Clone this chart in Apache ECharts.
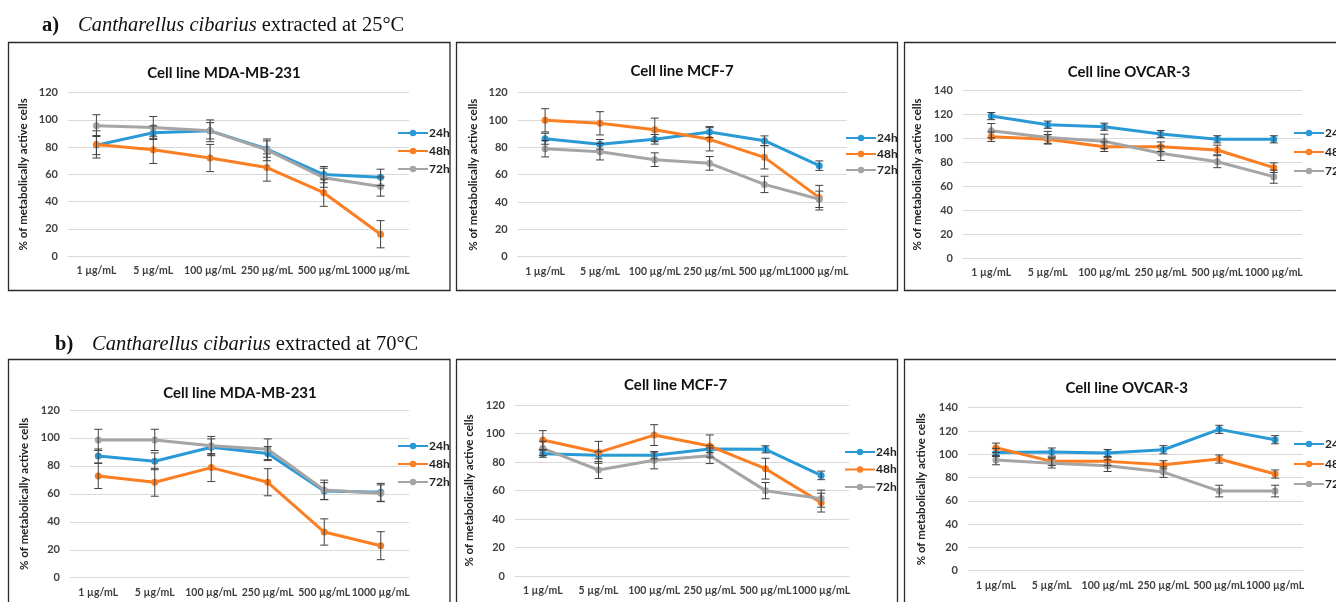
<!DOCTYPE html>
<html>
<head>
<meta charset="utf-8">
<script src="https://cdn.jsdelivr.net/npm/echarts@6/dist/echarts.min.js"></script>
<style>
html,body{margin:0;padding:0;background:#fff;}
#chart{width:1336px;height:602px;}
</style>
</head>
<body>
<div id="chart"></div>
<script>
// ---------- DATA ----------
const categories = ['1 µg/mL', '5 µg/mL', '100 µg/mL', '250 µg/mL', '500 µg/mL', '1000 µg/mL'];
const seriesNames = ['24h', '48h', '72h'];
const yTicks120 = [0, 20, 40, 60, 80, 100, 120];
const yTicks140 = [0, 20, 40, 60, 80, 100, 120, 140];

// a) 25°C — MDA-MB-231
const a1_24h = [81.5, 90.6, 92, 78.6, 59.8, 57.8];
const a1_24h_err = [7, 5, 6, 6, 6, 6];
const a1_48h = [82, 78, 72, 65, 46.5, 16];
const a1_48h_err = [10, 10, 10, 10, 10, 10];
const a1_72h = [95.8, 94.5, 92, 78, 57.5, 51];
const a1_72h_err = [8, 8, 8, 8, 7, 7];
// a) 25°C — MCF-7
const a2_24h = [86.3, 82.2, 85.9, 91.2, 84.9, 66.6];
const a2_24h_err = [4, 3.5, 3.5, 4, 3.5, 3.5];
const a2_48h = [99.8, 97.6, 92.9, 85.9, 72.7, 43.2];
const a2_48h_err = [8.5, 8.5, 8.5, 8.5, 8.5, 9];
const a2_72h = [79, 76.8, 71, 68.3, 52.9, 42];
const a2_72h_err = [6, 6, 5, 5, 6, 6];
// a) 25°C — OVCAR-3
const a3_24h = [118.8, 111.6, 109.9, 103.8, 99.4, 99.4];
const a3_24h_err = [3, 3, 3, 3, 3, 3];
const a3_48h = [101.6, 99.4, 93.2, 93.2, 90.5, 75.7];
const a3_48h_err = [4, 4, 4, 4, 4, 4];
const a3_72h = [106.6, 101, 97.7, 87.7, 80.7, 68.2];
const a3_72h_err = [6, 5, 6, 6, 5, 5.5];
// b) 70°C — MDA-MB-231
const b1_24h = [87.1, 83.3, 93.3, 88.8, 62, 61.1];
const b1_24h_err = [5, 6, 6, 5, 6, 6.4];
const b1_48h = [72.8, 68.3, 78.8, 68.3, 32.7, 22.9];
const b1_48h_err = [9, 10, 10, 9.7, 9.4, 10];
const b1_72h = [98.6, 98.6, 94.5, 91.9, 62.8, 60.4];
const b1_72h_err = [7.6, 7.6, 6.6, 7.4, 7, 6];
// b) 70°C — MCF-7
const b2_24h = [85.8, 84.7, 84.7, 89.1, 88.9, 70.6];
const b2_24h_err = [2.5, 2.5, 2.5, 2.5, 2.5, 3];
const b2_48h = [95.4, 86.8, 98.9, 91.2, 75.3, 51.5];
const b2_48h_err = [6.6, 7.7, 7.3, 7.8, 7.3, 6.6];
const b2_72h = [89.6, 74.4, 81.2, 84.4, 59.9, 54.3];
const b2_72h_err = [5, 6, 6, 5.5, 5.7, 6];
// b) 70°C — OVCAR-3
const b3_24h = [101.6, 101.9, 101.1, 103.9, 121.4, 112.5];
const b3_24h_err = [3.5, 3.5, 3, 3.5, 3.5, 3.5];
const b3_48h = [105.6, 93.9, 93.9, 91, 95.9, 83];
const b3_48h_err = [4, 3.5, 3.5, 3.5, 3.5, 3.5];
const b3_72h = [95, 92.2, 90.2, 84.7, 68.4, 68.4];
const b3_72h_err = [4, 4, 5, 4.5, 5, 5];

// ---------- LAYOUT / STYLE ----------
const colors = ['#2a9ad6', '#fb7e22', '#a5a5a5'];
const FONT = 'Lato';
const panels = [
  {title:'Cell line MDA-MB-231', ticks:yTicks120, vals:[a1_24h,a1_48h,a1_72h], errs:[a1_24h_err,a1_48h_err,a1_72h_err],
   grid:{left:68, top:92.7, width:341, height:163.3}, titleX:224, titleY:72, leg:{x:397, y:133, gap:18}, nameX:23, box:[8.5,42.5,441.5,248]},
  {title:'Cell line MCF-7', ticks:yTicks120, vals:[a2_24h,a2_48h,a2_72h], errs:[a2_24h_err,a2_48h_err,a2_72h_err],
   grid:{left:517.7, top:92.7, width:329, height:164}, titleX:682, titleY:70, leg:{x:845, y:138, gap:16}, nameX:473, box:[456.5,42.5,441,248]},
  {title:'Cell line OVCAR-3', ticks:yTicks140, vals:[a3_24h,a3_48h,a3_72h], errs:[a3_24h_err,a3_48h_err,a3_72h_err],
   grid:{left:963, top:90.7, width:339, height:167.6}, titleX:1129, titleY:70.7, leg:{x:1293, y:133, gap:19}, nameX:917, box:[904.5,42.5,460,248]},
  {title:'Cell line MDA-MB-231', ticks:yTicks120, vals:[b1_24h,b1_48h,b1_72h], errs:[b1_24h_err,b1_48h_err,b1_72h_err],
   grid:{left:70, top:410, width:339, height:167.7}, titleX:240, titleY:391.7, leg:{x:397, y:446, gap:18}, nameX:24, box:[8.5,359.5,441.5,260]},
  {title:'Cell line MCF-7', ticks:yTicks120, vals:[b2_24h,b2_48h,b2_72h], errs:[b2_24h_err,b2_48h_err,b2_72h_err],
   grid:{left:515, top:405, width:334, height:171}, titleX:675.7, titleY:384, leg:{x:844, y:452, gap:17.5}, nameX:469, box:[456.5,359.5,441,260]},
  {title:'Cell line OVCAR-3', ticks:yTicks140, vals:[b3_24h,b3_48h,b3_72h], errs:[b3_24h_err,b3_48h_err,b3_72h_err],
   grid:{left:968, top:407.7, width:335, height:163}, titleX:1126.7, titleY:386.7, leg:{x:1293, y:444, gap:20}, nameX:921, box:[904.5,359.5,460,260]}
];

const option = {
  backgroundColor:'#fff',
  animation:false,
  textStyle:{fontFamily:FONT},
  title:[], grid:[], xAxis:[], yAxis:[], legend:[], series:[],
  graphic:[]
};

// headers
const headStyle = {fontFamily:'Liberation Serif', fontSize:20.5, fontWeight:'normal', color:'#111',
  rich:{i:{fontFamily:'Liberation Serif', fontStyle:'italic', fontSize:20.5, color:'#111'}}};
option.title.push(
  {left:42, top:15, padding:0, text:'a)', textStyle:{fontFamily:'Liberation Serif', fontSize:20.5, fontWeight:'bold', color:'#111'}},
  {left:78, top:15, padding:0, text:'{i|Cantharellus cibarius} extracted at 25°C', textStyle:headStyle},
  {left:55, top:334, padding:0, text:'b)', textStyle:{fontFamily:'Liberation Serif', fontSize:20.5, fontWeight:'bold', color:'#111'}},
  {left:92, top:334, padding:0, text:'{i|Cantharellus cibarius} extracted at 70°C', textStyle:headStyle}
);

panels.forEach((p, i) => {
  const ymax = p.ticks[p.ticks.length - 1];
  option.graphic.push({type:'rect', shape:{x:p.box[0], y:p.box[1], width:p.box[2], height:p.box[3]},
    style:{fill:'none', stroke:'#2a2a2a', lineWidth:1.3}, z:0});
  option.title.push({text:p.title, left:p.titleX, top:p.titleY - 6, padding:0, textAlign:'center',
    textStyle:{fontFamily:FONT, fontSize:15, fontWeight:'bold', color:'#111'}});
  option.grid.push({left:p.grid.left, top:p.grid.top, width:p.grid.width, height:p.grid.height, containLabel:false});
  option.xAxis.push({type:'category', gridIndex:i, data:categories, boundaryGap:true,
    axisLine:{show:true, lineStyle:{color:'#d9d9d9', width:1}}, axisTick:{show:false},
    axisLabel:{interval:0, margin:9, fontFamily:FONT, fontSize:10.5, fontWeight:'bold', color:'#404040'},
    splitLine:{show:false}});
  option.yAxis.push({type:'value', gridIndex:i, min:0, max:ymax, interval:20,
    name:'% of metabolically active cells', nameLocation:'middle', nameGap:p.grid.left - p.nameX - 6,
    nameTextStyle:{fontFamily:FONT, fontSize:11.5, fontWeight:'bold', color:'#222'},
    axisLine:{show:false}, axisTick:{show:false},
    axisLabel:{margin:10, fontFamily:FONT, fontSize:11, fontWeight:'bold', color:'#404040'},
    splitLine:{show:true, lineStyle:{color:'#d9d9d9', width:1}}});
  option.legend.push({orient:'vertical', left:p.leg.x, top:p.leg.y - 6, itemWidth:30, itemHeight:8,
    itemGap:Math.max(0, p.leg.gap - 12), data:seriesNames, selectedMode:false, padding:0,
    textStyle:{fontFamily:FONT, fontSize:12, fontWeight:'bold', color:'#222', padding:[0,0,0,-4]}});
  seriesNames.forEach((nm, k) => {
    option.series.push({type:'line', name:nm, xAxisIndex:i, yAxisIndex:i, data:p.vals[k],
      color:colors[k], symbol:'circle', symbolSize:7, showSymbol:true,
      lineStyle:{width:3, color:colors[k]}, itemStyle:{color:colors[k]}, z:2});
  });
  seriesNames.forEach((nm, k) => {
    option.series.push({type:'custom', name:'err_' + nm, xAxisIndex:i, yAxisIndex:i,
      data:p.vals[k].map((v, j) => [j, v, p.errs[k][j]]),
      encode:{x:0, y:1}, z:3, silent:true,
      renderItem:(params, api) => {
        const x = api.value(0), v = api.value(1), e = api.value(2);
        const top = api.coord([x, v + e]);
        const bot = api.coord([x, v - e]);
        const hw = 4;
        const st = {stroke:'#404040', lineWidth:1};
        return {type:'group', children:[
          {type:'line', shape:{x1:top[0], y1:top[1], x2:bot[0], y2:bot[1]}, style:st},
          {type:'line', shape:{x1:top[0]-hw, y1:top[1], x2:top[0]+hw, y2:top[1]}, style:st},
          {type:'line', shape:{x1:bot[0]-hw, y1:bot[1], x2:bot[0]+hw, y2:bot[1]}, style:st}
        ]};
      }});
  });
});

const chart = echarts.init(document.getElementById('chart'), null, {renderer:'canvas'});
chart.setOption(option);
</script>
</body>
</html>
